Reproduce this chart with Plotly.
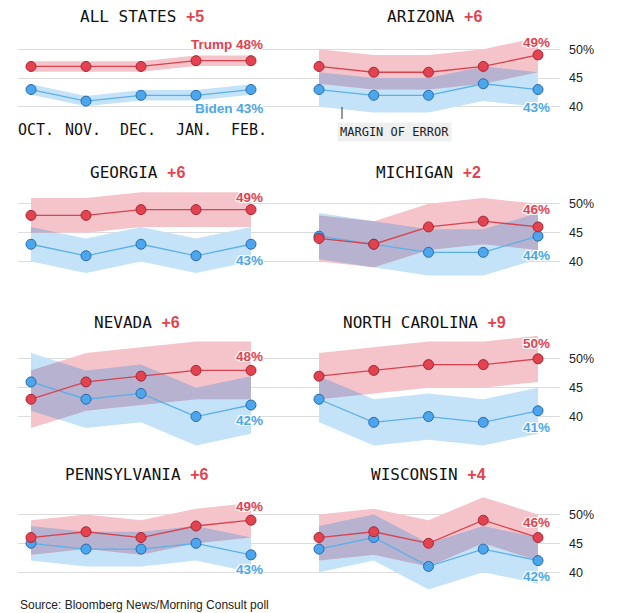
import plotly.graph_objects as go

# ---------------- data ----------------
months = ["OCT.", "NOV.", "DEC.", "JAN.", "FEB."]
panel_names = ["ALL STATES", "ARIZONA", "GEORGIA", "MICHIGAN",
               "NEVADA", "NORTH CAROLINA", "PENNSYLVANIA", "WISCONSIN"]

trump_all = [47, 47, 47, 48, 48]
biden_all = [43, 41, 42, 42, 43]
trump_az = [47, 46, 46, 47, 49]
biden_az = [43, 42, 42, 44, 43]
trump_ga = [48, 48, 49, 49, 49]
biden_ga = [43, 41, 43, 41, 43]
trump_mi = [44, 43, 46, 47, 46]
biden_mi = [44.4, 43, 41.6, 41.6, 44.4]
trump_nv = [43, 46, 47, 48, 48]
biden_nv = [46, 43, 44, 40, 42]
trump_nc = [47, 48, 49, 49, 50]
biden_nc = [43, 39, 40, 39, 41]
trump_pa = [46, 47, 46, 48, 49]
biden_pa = [45, 44, 44, 45, 43]
trump_wi = [46, 47, 45, 49, 46]
biden_wi = [44, 46, 41, 44, 42]

margin_of_error = [0.9, 3, 3, 4, 5, 4, 3, 4]

trump_series = [trump_all, trump_az, trump_ga, trump_mi, trump_nv, trump_nc, trump_pa, trump_wi]
biden_series = [biden_all, biden_az, biden_ga, biden_mi, biden_nv, biden_nc, biden_pa, biden_wi]

ytick_vals = [40, 45, 50]
ytick_text = ["40", "45", "50%"]

# ---------------- layout / style ----------------
W, H = 624, 613
K = 5.77                     # px per percentage point
row_mid = [78, 232.7, 387.7, 543.3]   # px of the 45 line per row
row_title = [16, 172, 322, 474]
col_first = [31, 319]
col_step = [55, 54.75]
col_dom = [(18, 305), (300, 560)]
title_cx = [142, 434, 137, 428, 137, 424, 137, 428]
trump_dy = [16, 12, 12, 17.5, 14, 15, 14, 15]
biden_dy = [18.5, 17.5, 16, 19, 15, 17, 15, 16]
month_shift = [5, -3, -3, -2, -2]
YLO, YHI = 33, 57

RED = "#e3424f"
RED_EDGE = "#a52838"
RED_LINE = "#d9434f"
BLUE = "#4ba6ee"
BLUE_EDGE = "#2b6aa8"
BLUE_LINE = "#5cb0ea"
PINK_BAND = "#f5c3ca"
BLUE_BAND = "#c4e3f8"
OVERLAP = "#b6b2cf"
MONO = "DejaVu Sans Mono"
SANS = "Liberation Sans, Arial"
HALO = "1px 1px 0 #fff, -1px -1px 0 #fff, 1px -1px 0 #fff, -1px 1px 0 #fff, 0 1px 0 #fff, 0 -1px 0 #fff, 1px 0 0 #fff, -1px 0 0 #fff"


def px_x(v):
    return v / W


def px_y(v):
    return 1 - v / H


def overlap_band(lo1, hi1, lo2, hi2):
    xs, top, bot = [], [], []
    n = len(lo1)
    for i in range(n - 1):
        def val(arr, t):
            return arr[i] + (arr[i + 1] - arr[i]) * t

        ts = {0.0, 1.0}
        for a1, a2 in ((lo1, lo2), (hi1, hi2)):
            d0 = a1[i] - a2[i]
            d1 = a1[i + 1] - a2[i + 1]
            if d0 * d1 < 0:
                ts.add(d0 / (d0 - d1))
        ts = sorted(ts)

        def g(t):
            return min(val(hi1, t), val(hi2, t)) - max(val(lo1, t), val(lo2, t))

        extra = []
        for ta, tb in zip(ts[:-1], ts[1:]):
            ga, gb = g(ta), g(tb)
            if ga * gb < 0:
                extra.append(ta + (tb - ta) * ga / (ga - gb))
        for t in sorted(ts + extra):
            lo = max(val(lo1, t), val(lo2, t))
            hi = max(min(val(hi1, t), val(hi2, t)), lo)
            xs.append(i + t)
            top.append(hi)
            bot.append(lo)
    return xs, top, bot


fig = go.Figure()
annotations = []
shapes = []
idx = list(range(len(months)))

for p, name in enumerate(panel_names):
    r, c = divmod(p, 2)
    n = p + 1
    xa = "x" if n == 1 else f"x{n}"
    ya = "y" if n == 1 else f"y{n}"
    tr = trump_series[p]
    bi = biden_series[p]
    m = margin_of_error[p]
    t_lo = [v - m for v in tr]
    t_hi = [v + m for v in tr]
    b_lo = [v - m for v in bi]
    b_hi = [v + m for v in bi]

    fig.add_trace(go.Scatter(x=idx + idx[::-1], y=b_hi + b_lo[::-1], fill="toself",
                             fillcolor=BLUE_BAND, line=dict(width=0), mode="lines",
                             hoverinfo="skip", showlegend=False, xaxis=xa, yaxis=ya))
    fig.add_trace(go.Scatter(x=idx + idx[::-1], y=t_hi + t_lo[::-1], fill="toself",
                             fillcolor=PINK_BAND, line=dict(width=0), mode="lines",
                             hoverinfo="skip", showlegend=False, xaxis=xa, yaxis=ya))
    ox, otop, obot = overlap_band(t_lo, t_hi, b_lo, b_hi)
    fig.add_trace(go.Scatter(x=ox + ox[::-1], y=otop + obot[::-1], fill="toself",
                             fillcolor=OVERLAP, line=dict(width=0), mode="lines",
                             hoverinfo="skip", showlegend=False, xaxis=xa, yaxis=ya))
    fig.add_trace(go.Scatter(x=idx, y=bi, mode="lines+markers",
                             line=dict(color=BLUE_LINE, width=1.3),
                             marker=dict(size=10, color=BLUE, line=dict(color=BLUE_EDGE, width=1)),
                             showlegend=False, xaxis=xa, yaxis=ya, name="Biden"))
    fig.add_trace(go.Scatter(x=idx, y=tr, mode="lines+markers",
                             line=dict(color=RED_LINE, width=1.3),
                             marker=dict(size=10, color=RED, line=dict(color=RED_EDGE, width=1)),
                             showlegend=False, xaxis=xa, yaxis=ya, name="Trump"))

    x0, x1 = col_dom[c]
    xr0 = (x0 - col_first[c]) / col_step[c]
    xr1 = (x1 - col_first[c]) / col_step[c]
    ytop = row_mid[r] - (YHI - 45) * K
    ybot = row_mid[r] + (45 - YLO) * K
    fig.layout[f"xaxis{'' if n == 1 else n}"] = dict(
        domain=[px_x(x0), px_x(x1)], range=[xr0, xr1], anchor=ya,
        showgrid=False, zeroline=False, showticklabels=False, showline=False, fixedrange=True)
    fig.layout[f"yaxis{'' if n == 1 else n}"] = dict(
        domain=[px_y(ybot), px_y(ytop)], range=[YLO, YHI], anchor=xa,
        showgrid=True, gridcolor="#dcdcdc", gridwidth=1, zeroline=False, showline=False,
        tickvals=ytick_vals, ticktext=ytick_text, ticks="",
        showticklabels=(c == 1), side="right" if c == 1 else "left",
        ticklabelstandoff=8, tickfont=dict(family=SANS, size=12.5, color="#222"),
        fixedrange=True)

    lead = round(tr[-1] - bi[-1])
    annotations.append(dict(
        x=px_x(title_cx[p]), y=px_y(row_title[r]), xref="paper", yref="paper",
        xanchor="center", yanchor="middle", showarrow=False,
        text=f"{name} <span style='font-family:Liberation Sans, Arial;color:{RED}'><b>+{lead}</b></span>",
        font=dict(family=MONO, size=16, color="#111")))

    t_txt = f"{round(tr[-1])}%"
    b_txt = f"{round(bi[-1])}%"
    if p == 0:
        t_txt = "Trump " + t_txt
        b_txt = "Biden " + b_txt
    annotations.append(dict(
        x=idx[-1], y=tr[-1], xref=xa, yref=ya, xanchor="right", yanchor="middle",
        xshift=14, yshift=trump_dy[p], showarrow=False, text=f"<b>{t_txt}</b>",
        font=dict(family=SANS, size=13.5, color=RED, shadow=HALO)))
    annotations.append(dict(
        x=idx[-1], y=bi[-1], xref=xa, yref=ya, xanchor="right", yanchor="middle",
        xshift=14, yshift=-biden_dy[p], showarrow=False, text=f"<b>{b_txt}</b>",
        font=dict(family=SANS, size=13.5, color=BLUE, shadow=HALO)))

# month labels under the first panel
for i, mname in enumerate(months):
    annotations.append(dict(
        x=idx[i], y=px_y(130), xref="x", yref="paper", xanchor="center", yanchor="middle",
        xshift=month_shift[i], showarrow=False, text=mname,
        font=dict(family=MONO, size=15, color="#111")))

# margin of error callout
annotations.append(dict(
    x=px_x(394), y=px_y(132), xref="paper", yref="paper", xanchor="center", yanchor="middle",
    showarrow=False, text="MARGIN OF ERROR", bgcolor="#efefef", borderpad=2,
    font=dict(family=MONO, size=12, color="#222")))
shapes.append(dict(type="line", xref="paper", yref="paper",
                   x0=px_x(342), x1=px_x(342), y0=px_y(107), y1=px_y(119),
                   line=dict(color="#333", width=1)))

annotations.append(dict(
    x=px_x(18), y=px_y(605), xref="paper", yref="paper", xanchor="left", yanchor="middle",
    showarrow=False, text="Source: Bloomberg News/Morning Consult poll",
    font=dict(family=SANS, size=12, color="#222")))

fig.update_layout(
    width=W, height=H, margin=dict(l=0, r=0, t=0, b=0),
    paper_bgcolor="white", plot_bgcolor="rgba(0,0,0,0)",
    annotations=annotations, shapes=shapes, showlegend=False,
    hovermode=False)

fig.write_html("out.html", config={"displayModeBar": False})
